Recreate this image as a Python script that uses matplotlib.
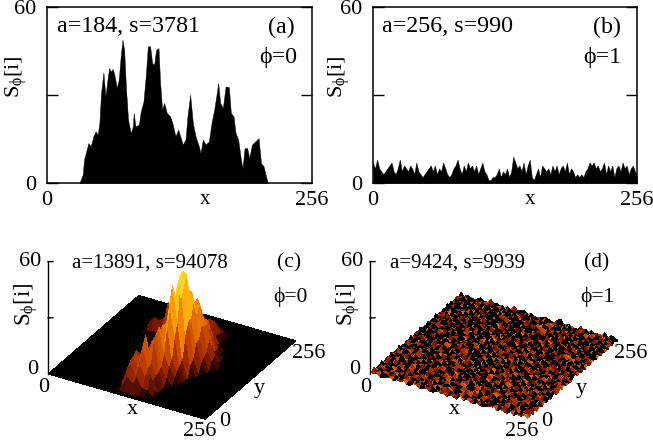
import numpy as np
import matplotlib
matplotlib.use("Agg")
import matplotlib.pyplot as plt
from matplotlib.colors import LinearSegmentedColormap, Normalize
from mpl_toolkits.mplot3d import proj3d

plt.rcParams['font.family'] = ['Liberation Serif', 'DejaVu Serif']
plt.rcParams['mathtext.fontset'] = 'custom'
plt.rcParams['mathtext.rm'] = 'Liberation Serif'
plt.rcParams['mathtext.it'] = 'Liberation Serif'

W, H = 653, 446

xa = [31.3,34.5,35.8,37.7,40,42.2,44.8,47,49,50.6,52.2,54.5,56.4,58.4,60,61.6,63.5,65.4,67.4,69.3,71.2,72.9,74.5,76.4,78.3,80.9,82.9,83.8,85.4,88.7,90.6,93.2,95.4,97.4,99.6,101.6,103.5,105.4,107.7,109.3,111.2,113.2,115.7,119,121.5,124.1,126.7,129.3,131.2,133.8,135.7,138.3,140.9,143.5,146.7,148.3,150.6,153.1,156.4,158.9,161.5,163.5,165.4,167.3,169.9,172.5,175.7,177.6,180.2,182.2,184.7,187.3,188.9,190.9,193.4,195.4,198,201.2,204.4,206.7,209.2,211.5,213.4]
sa = [0,2.8,8,10.5,13.6,12.5,15.9,17.6,16.5,20.4,30.7,37.7,29.5,35.2,39.2,38,38.9,36.4,32.4,35.2,43.2,48.8,45.4,31.8,21.6,17,19.3,23.9,19.3,19.9,24.4,27.8,36.4,46.6,46.6,40.9,40.3,45.4,46,34.1,25,27.3,23.9,22.7,19.9,15.9,18.2,15.3,13.1,14.8,22.7,30.1,20.4,15.9,12.5,10.2,14.8,13.1,14.2,20.4,25,29.5,34.1,27.3,25.6,32.9,32.7,23.9,22.7,17,14.8,8,5.1,11.9,11.9,8.5,13.1,14.2,15.3,6.8,5.7,2.3,0]

sb = [7,5,8,5,4,3,4,5,6,7,4,3,5,8,4,6,5,4,6,5,3,7,4,3,2,3,4,5,6,4,6,3,5,4,7,5,3,2,3,5,6,8,5,3,6,4,7,5,6,4,6,3,5,7,4,3,1,1,2,2,3,5,2,4,3,5,2,4,9,7,5,6,4,7,3,6,8,2,1,3,5,2,6,5,4,5,3,6,4,6,3,5,6,4,7,3,5,4,2,3,2,3,2,4,5,7,6,7,5,6,4,5,7,3,6,4,6,2,5,6,4,7,5,6,3,5,6,4,2]

# island of panel (c): first x index (step 8) and heights, per y index
c_rows = {
 2:(14,[3,8,5,9,4,3]),
 3:(14,[6,12,8,15,9,10,2]),
 4:(14,[9,14,11,22,12,6]),
 5:(14,[11,16,12,27,13,7]),
 6:(13,[3,12,10,20,14,24,8]),
 7:(13,[5,14,10,17,13,25,10,4]),
 8:(13,[3,9,14,11,20,28,16,9,3]),
 9:(13,[5,11,8,18,14,22,30,12,6]),
 10:(13,[2,9,13,11,22,18,38,23,8]),
 11:(13,[4,7,14,12,24,27,47,30,10]),
 12:(13,[2,8,9,18,20,36,40,52,22,6]),
 13:(13,[3,6,12,14,28,30,46,53,27,8]),
 14:(13,[2,7,9,18,20,34,37,50,28,15,5]),
 15:(13,[4,5,13,12,24,25,39,40,36,16,7]),
 16:(13,[2,9,8,17,20,31,29,38,27,22,9,4]),
 17:(13,[6,7,15,13,25,23,33,29,30,20,15,6]),
 18:(13,[9,12,11,20,22,30,24,32,22,20,9]),
 19:(12,[5,9,12,11,17,22,24,22,26,18,16,5]),
 20:(12,[10,22,10,15,16,22,17,24,19,18,10,5]),
 21:(8,[1,2,2,3,12,9,14,12,18,16,22,15,14,10,5]),
 22:(8,[5,8,7,9,8,11,10,16,13,18,12,10,7,9,4]),
 23:(9,[3,5,6,7,6,8,10,16,12,14,8,4]),
 24:(10,[3,4,6,5,8,6,10,14,9,12,4]),
 25:(12,[2,5,4,8,6,10,8,10,4]),
 26:(14,[3,5,4,7,6,8,3]),
 27:(15,[2,4,3,5,4,2]),
 28:(17,[2,3,2]),
}

# speckle of panel (d), one digit per cell
d_rows = [
"213001302140032012003120210403102001230210302141",
"102320130021302401300210123002140310023102130020",
"300213400120023010230341002130012003410200132103",
"021003120302100340120020130241003120012301400210",
"130240012003120103002310020314002103200120031024",
"002130401200230021204001320012300240130320100320",
"310002103140010320030210401230100231002041230012",
"024103002003412001230103200140320120301000213401",
"100320134010020310402001203002103400210230120030",
"203001002310341002103020130410020031203100401203",
"012040320120003210041300201002301402001320023100",
"300210013002140300120023010340120030210041002132",
"021034002301002103200410230020130240103002310200",
"140020310040230010321003001240003120020401302001",
"002301203100214002040130210032100401300120002314",
"310200410020030132001204003010230012041002301020",
"002103001304100230210030120400312000230103040120",
"120040230002301004123002010320041302001200310023",
"031200104120032001030240310002100320140023002140",
"200310020031401203200103002140230010023104100302",
"014002310200030120041230020300124003102000320130",
"300120041031200230100031402010320020410123002001",
"021300200240010314002100230401002130020031004120",
"102004130020320100230140010230301002401200130300",
"230010002401023002104003120020140320010320401002",
"001320240100310024001230200103002401300210023014",
"340002001320020130320010410320010023002140100230",
"002104100023401002004130020031204100320002301402",
"120030320100200314010200132000401023010420030010",
"003200014023104002301020410230020310002104002301",
"210410230002001230040130002104130020431000230140",
"002001002314020100320201340002001402002130400203",
"130320410020034001203010020130230100200340120010",
"002004003102100230040320103400102304100020031240",
"310120020140032010102003200120040020032104100302",
"020403102000210340020140010302310203001020032001",
"104000230410023002103002401000204100230340200140",
"002310102003100140320010230320012003104002013002",
"230004020130420020004103002001340020010230100320",
"001202300401002310210020340120002310402003204001",
"320010140020340002003401000230120040012000130230",
"012300203102001204120020103040201003200314002001",
"200140010230040310002310204002030120140020100320",
"031002304002103002040120001320001403002301203014",
"100230100340020130310003200140230020100420010200",
"203001402001302002102400130020104002310030240103",
"010320023100240310003012004310020300124010302001",
"302001300412002041230200120003402100300201040320",
]

def pal():
    return LinearSegmentedColormap.from_list('h', [
        (0, (0.05,0,0)), (0.1,(0.48,0.09,0)), (0.3,(0.75,0.25,0)),
        (0.55,(0.95,0.5,0.02)), (0.8,(1,0.7,0.05)), (1,(1,0.9,0.2))])

fig = plt.figure(figsize=(W/100, H/100), dpi=100)

def ptext(px, py, s, size=15, **kw):
    kw.setdefault('ha', 'center'); kw.setdefault('va', 'center')
    return fig.text(px/W, 1-py/H, s, fontsize=size, **kw)

YLAB = r'$\mathrm{S_{ϕ}[i]}$'

def panel2d(left, right, x, y, title, tx, tag, tagx, phi, phix, ylx, xlx):
    ax = fig.add_axes([left/W, 1-183/H, (right-left)/W, 176/H])
    ax.fill_between(x, 0, y, color='k', lw=0.3)
    ax.set_xlim(0, 256); ax.set_ylim(0, 60)
    ax.set_xticks([0, 256]); ax.set_xticklabels(['0', '256'])
    ax.set_yticks([0, 30, 60]); ax.set_yticklabels(['0', '', '60'])
    ax.tick_params(axis='x', length=0, pad=6, labelsize=16)
    ax.tick_params(axis='y', direction='in', right=True, length=8, width=1, pad=8, labelsize=16)
    for s in ax.spines.values():
        s.set_linewidth(1.1)
    ptext(tx, 27, title, size=17.3, ha='left')
    ptext(tagx, 27, tag, size=17.3)
    ptext(phix, 57, phi, size=17.3)
    ptext(ylx, 77, YLAB, size=16, rotation=90)
    ptext(xlx, 199, 'x', size=15)

panel2d(47, 312, xa, sa, 'a=184, s=3781', 57, '(a)', 281, 'ϕ=0', 278, 16, 205)
panel2d(373, 637, np.linspace(0, 256, len(sb)), sb, 'a=256, s=990', 382, '(b)', 607, 'ϕ=1', 602, 339, 530)

def fit3d(ax, origin, xcorner):
    def screen(p):
        ax.apply_aspect()
        M = ax.get_proj()
        a, b, _ = proj3d.proj_transform(p[0], p[1], p[2], M)
        return ax.transData.transform((a, b))
    side = 300.0
    cx, cy = origin[0]+100, H-origin[1]
    ax.set_position([(cx-side/2)/W, (cy-side/2)/H, side/W, side/H])
    for _ in range(4):
        o = screen((0, 0, 0)); e = screen((256, 0, 0))
        want = np.hypot(xcorner[0]-origin[0], xcorner[1]-origin[1])
        side *= want/np.hypot(*(e-o))
        ax.set_position([(cx-side/2)/W, (cy-side/2)/H, side/W, side/H])
        o = screen((0, 0, 0))
        cx += origin[0]-o[0]; cy += (H-origin[1])-o[1]
        ax.set_position([(cx-side/2)/W, (cy-side/2)/H, side/W, side/H])

def panel3d(Z, vmax, origin, xcorner, facevals):
    ax = fig.add_axes([0, 0, 0.4, 0.4], projection='3d', computed_zorder=False)
    ax.patch.set_alpha(0)
    ax.set_proj_type('ortho')
    ax.view_init(elev=30, azim=-60)
    ax.set_box_aspect((1, 1, 0.715))
    n = Z.shape[0]
    g = np.linspace(0, 256, n)
    X, Y = np.meshgrid(g, g)
    fc = pal()(Normalize(0, vmax)(facevals))
    fc[facevals <= 0] = (0, 0, 0, 1)
    ax.plot_surface(X, Y, Z, facecolors=fc, rstride=1, cstride=1, shade=False,
                    linewidth=0, antialiased=False)
    ax.set_xlim(0, 256, view_margin=0); ax.set_ylim(0, 256, view_margin=0)
    ax.set_zlim(0, 60, view_margin=0)
    ax.set_axis_off()
    ax.plot([0, 0], [0, 0], [0, 60], color='k', lw=1)
    for z in (30, 60):
        ax.plot([0, 6], [0, 3.6], [z, z], color='k', lw=1)
    fit3d(ax, origin, xcorner)
    return ax

Zc = np.zeros((33, 33))
for j, (i0, vals) in c_rows.items():
    Zc[j, i0:i0+len(vals)] = vals
mean_c = (Zc[:-1, :-1]+Zc[1:, :-1]+Zc[:-1, 1:]+Zc[1:, 1:])/4
panel3d(Zc, 50, (48, 374), (205, 420), mean_c)

Dd = np.array([[int(ch) for ch in r[:48]] for r in d_rows], dtype=float)
panel3d(Dd*0.6, 9, (370, 374), (527, 420), Dd[:-1, :-1])

def labels3d(title, tx, tag, tagx, phi, dx):
    ptext(tx, 263, title, size=15)
    ptext(tagx, 263, tag, size=15.5)
    ptext(tagx+dx, 297, phi, size=15.5)

labels3d('a=13891, s=94078', 150, '(c)', 289, 'ϕ=0', 1)
labels3d('a=9424, s=9939', 457, '(d)', 597, 'ϕ=1', 0)
for off, ylx in ((0, 26), (322, 348)):
    ptext(ylx, 304, YLAB, size=16.5, rotation=90)
    ptext(30+off, 261, '60', size=16)
    ptext(33+off, 370, '0', size=16)
    ptext(44+off, 388, '0', size=16)
    ptext(132+off, 410, 'x', size=16)
    ptext(200+off, 431, '256', size=16)
    ptext(225+off, 422, '0', size=16)
    ptext(259+off, 389, 'y', size=16)
    ptext(309+off, 354, '256', size=16)

fig.savefig('out.png', dpi=100)
